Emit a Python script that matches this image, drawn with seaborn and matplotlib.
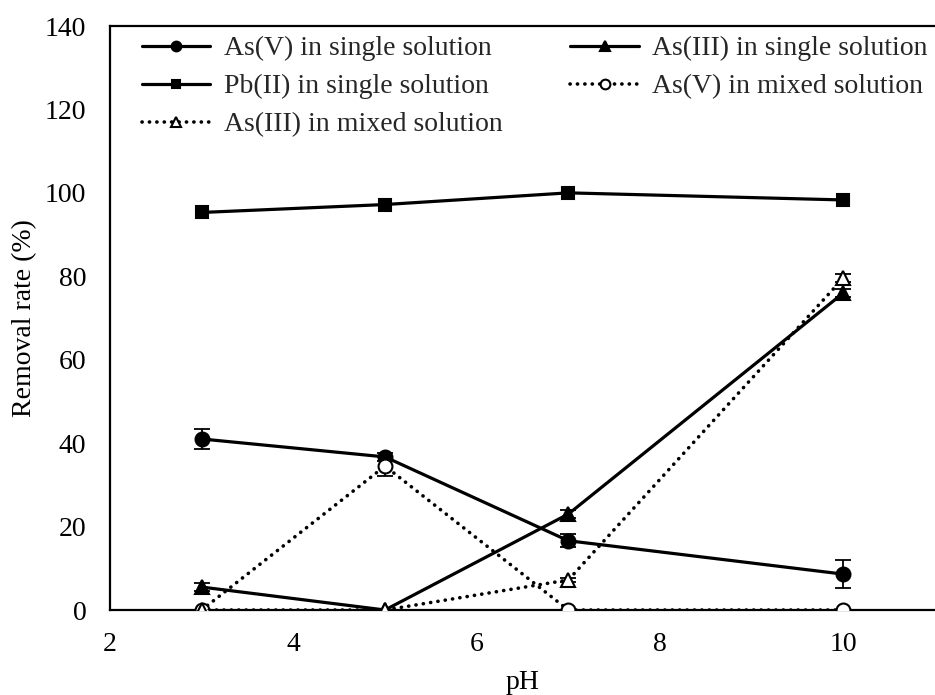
import matplotlib
matplotlib.use("Agg")
import matplotlib.pyplot as plt
import seaborn as sns
import numpy as np

sns.set_theme(style="white")
plt.rcParams['font.family'] = ['Liberation Serif', 'DejaVu Serif']

ph = [3, 5, 7, 10]
asv_single = [41.0, 36.7, 16.6, 8.6]
asv_single_err = [2.3, 1.0, 1.5, 3.4]
asiii_single = [5.5, 0.0, 23.0, 76.0]
asiii_single_err = [1.0, 0.0, 1.0, 1.0]
pb_single = [95.3, 97.2, 100.0, 98.3]
pb_single_err = [0.0, 0.0, 0.0, 0.0]
asv_mixed = [0.0, 34.5, 0.0, 0.0]
asv_mixed_err = [0.0, 2.4, 0.0, 0.0]
asiii_mixed = [0.0, 0.0, 7.2, 79.6]
asiii_mixed_err = [0.0, 0.0, 0.5, 1.0]

labels = ["As(V) in single solution", "As(III) in single solution",
          "Pb(II) in single solution", "As(V) in mixed solution",
          "As(III) in mixed solution"]

FS = 20

fig = plt.figure(figsize=(9.35, 6.95), dpi=100)
ax = fig.add_axes([110/935, 1-610/695, 1-110/935, (610-26)/695])

series = [
    (asv_single, asv_single_err, labels[0], 'o', 'black', '-'),
    (asiii_single, asiii_single_err, labels[1], '^', 'black', '-'),
    (pb_single, pb_single_err, labels[2], 's', 'black', '-'),
    (asv_mixed, asv_mixed_err, labels[3], 'o', 'white', ':'),
    (asiii_mixed, asiii_mixed_err, labels[4], '^', 'white', ':'),
]

for vals, err, lab, mk, fc, ls in series:
    if any(e > 0 for e in err):
        ax.errorbar(ph, vals, yerr=err, fmt='none', ecolor='black',
                    elinewidth=1.3, capsize=5.5, capthick=1.3, zorder=2)
    sns.lineplot(x=ph, y=vals, ax=ax, color='black',
                 linewidth=2.3 if ls == '-' else 2.6,
                 linestyle=ls, marker=mk, markersize=10 if mk != 's' else 9,
                 markerfacecolor=fc, markeredgecolor='black', markeredgewidth=1.5,
                 label=lab, zorder=3)

for line in ax.get_lines():
    if line.get_linestyle() == ':':
        line.set_dashes((0.05, 2.0))
        line.set_dash_capstyle('round')

ax.set_xlim(2, 11)
ax.set_ylim(0, 140)
ax.set_xticks([2, 4, 6, 8, 10])
ax.set_yticks(np.arange(0, 141, 20))
ax.tick_params(axis='both', labelsize=FS, length=0, colors='black')
ax.tick_params(axis='x', pad=16)
ax.tick_params(axis='y', pad=17)
ax.set_xlabel("pH", fontsize=FS, color='black')
ax.set_ylabel("Removal rate (%)", fontsize=FS, color='black')
ax.xaxis.set_label_coords(0.5, -0.102)
ax.yaxis.set_label_coords(-0.088, 0.5)

for s in ['left', 'bottom', 'top']:
    ax.spines[s].set_visible(True)
    ax.spines[s].set_color('black')
    ax.spines[s].set_linewidth(1.6)
ax.spines['right'].set_visible(False)
ax.grid(False)

h, l = ax.get_legend_handles_labels()
d = dict(zip(l, h))
order = [labels[0], labels[2], labels[4], labels[1], labels[3]]
ax.legend([d[k] for k in order], order, ncol=2, loc='upper left',
          bbox_to_anchor=(0.025, 1.002), frameon=False, fontsize=FS,
          handlelength=2.45, handletextpad=0.5, columnspacing=2.45,
          labelspacing=0.45, markerscale=0.7, borderaxespad=0.0)

fig.savefig("out.png", dpi=100)
